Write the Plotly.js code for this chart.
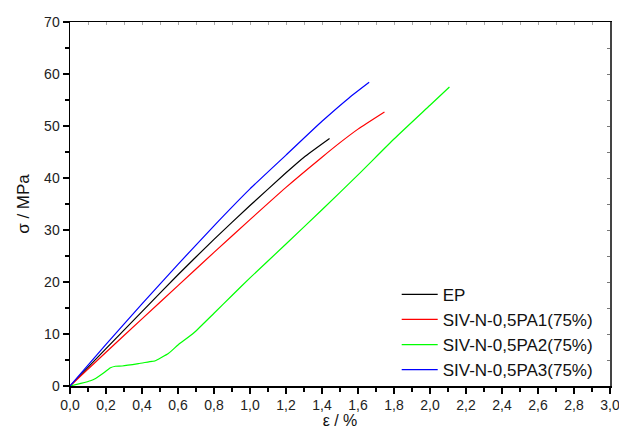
<!DOCTYPE html>
<html>
<head>
<meta charset="utf-8">
<script src="https://cdn.plot.ly/plotly-3.0.1.min.js"></script>
<style>html,body{margin:0;padding:0;background:#fff;}#chart{width:619px;height:429px;}</style>
</head>
<body>
<div id="chart"></div>
<script>
const seriesNames = ["EP", "SIV-N-0,5PA1(75%)", "SIV-N-0,5PA2(75%)", "SIV-N-0,5PA3(75%)"];
const seriesColors = ["#000000", "#ff0000", "#00ff00", "#0000ff"];

const epStrain = [0, 0.2, 0.4, 0.6, 0.8, 1.0, 1.2, 1.3, 1.442];
const epStress = [0, 7.2, 14.3, 21.4, 28.2, 34.7, 41.0, 44.0, 47.6];

const pa1Strain = [0, 0.2, 0.4, 0.6, 0.8, 1.0, 1.2, 1.4, 1.5, 1.6, 1.747];
const pa1Stress = [0, 6.5, 12.9, 19.3, 25.7, 32.0, 38.2, 44.0, 46.8, 49.4, 52.7];

const pa2Strain = [0, 0.06, 0.114, 0.142, 0.19, 0.225, 0.252, 0.29, 0.38, 0.456, 0.47, 0.548, 0.6, 0.687, 0.8, 0.9, 1.0, 1.2, 1.4, 1.6, 1.8, 2.0, 2.108];
const pa2Stress = [0, 0.5, 1.0, 1.45, 2.6, 3.5, 3.8, 3.85, 4.3, 4.75, 4.8, 6.3, 7.9, 10.2, 14.0, 17.4, 20.8, 27.3, 33.9, 40.6, 47.5, 54.0, 57.5];

const pa3Strain = [0, 0.2, 0.4, 0.6, 0.8, 1.0, 1.2, 1.4, 1.55, 1.662];
const pa3Stress = [0, 8.0, 15.8, 23.4, 30.8, 37.9, 44.4, 50.9, 55.4, 58.4];

const xTicks = [0, 0.2, 0.4, 0.6, 0.8, 1.0, 1.2, 1.4, 1.6, 1.8, 2.0, 2.2, 2.4, 2.6, 2.8, 3.0];
const yTicks = [0, 10, 20, 30, 40, 50, 60, 70];

const xs = [epStrain, pa1Strain, pa2Strain, pa3Strain];
const ys = [epStress, pa1Stress, pa2Stress, pa3Stress];

const traces = seriesNames.map((n, i) => ({
  x: xs[i], y: ys[i], name: n, type: 'scatter', mode: 'lines',
  line: {color: seriesColors[i], width: 1.2, shape: 'spline', smoothing: 0.5}
}));
// carrier trace so the mirrored frame axes (top / right) are drawn
traces.push({x: [null], y: [null], xaxis: 'x2', yaxis: 'y2', type: 'scatter', mode: 'lines',
  showlegend: false, hoverinfo: 'skip'});

const fam = 'Liberation Sans, Arial, sans-serif';

const layout = {
  width: 619, height: 429,
  margin: {l: 70, r: 9, t: 22, b: 43},
  paper_bgcolor: '#fff', plot_bgcolor: '#fff',
  separators: ',.',
  font: {family: fam, color: '#222', size: 14},
  showlegend: true,
  legend: {x: 0.605, xanchor: 'left', y: 0.30, yanchor: 'top', bgcolor: 'rgba(0,0,0,0)',
           font: {family: fam, size: 17, color: '#111'}, tracegroupgap: 0, itemwidth: 36},
  xaxis: {
    range: [0, 3], tickvals: xTicks, tickformat: '.1f', ticks: 'outside', ticklen: 6, tickwidth: 1.3,
    tickcolor: '#000', showline: true, linecolor: '#000', linewidth: 1.5, showgrid: false, zeroline: false,
    ticklabeloverflow: 'allow',
    minor: {dtick: 0.1, tick0: 0, ticks: 'outside', ticklen: 4, tickwidth: 1.3, tickcolor: '#000'},
    title: {text: 'ε / %', font: {size: 16, color: '#111'}, standoff: 6},
    tickfont: {size: 14}
  },
  yaxis: {
    range: [0, 70], tickvals: yTicks, ticks: 'outside', ticklen: 6, tickwidth: 1.3,
    tickcolor: '#000', showline: true, linecolor: '#000', linewidth: 1.5, showgrid: false, zeroline: false,
    minor: {dtick: 5, tick0: 0, ticks: 'outside', ticklen: 4, tickwidth: 1.3, tickcolor: '#000'},
    title: {text: 'σ / MPa', font: {size: 17, color: '#111'}, standoff: 10},
    tickfont: {size: 14}
  },
  xaxis2: {
    overlaying: 'x', side: 'top', anchor: 'y', range: [0, 3], dtick: 0.1, tick0: 0, ticks: 'inside', ticklen: 3,
    tickcolor: '#aaa', showticklabels: false, showline: true, linecolor: '#000', linewidth: 1.5,
    showgrid: false, zeroline: false
  },
  yaxis2: {
    overlaying: 'y', side: 'right', anchor: 'x', range: [0, 70], dtick: 5, tick0: 0, ticks: 'inside', ticklen: 3,
    tickcolor: '#777', showticklabels: false, showline: true, linecolor: '#444', linewidth: 2,
    showgrid: false, zeroline: false
  }
};

Plotly.newPlot('chart', traces, layout, {displayModeBar: false, staticPlot: true});
</script>
</body>
</html>
